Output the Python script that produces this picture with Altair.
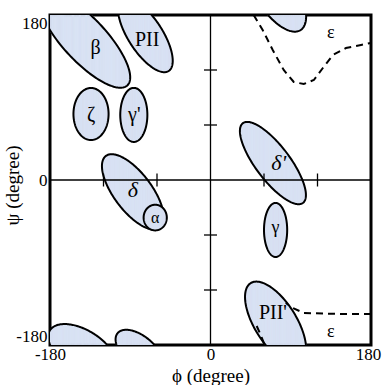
import numpy as np
import pandas as pd
import altair as alt

# ---- ellipse regions (center phi, center psi, semi-major, semi-minor, angle in degrees) ----
ell_name = ["beta", "PII", "zeta", "gamma_p", "delta", "delta_p", "gamma", "PII_p", "PII_p_wrap", "beta_wrap", "PII_wrap", "alpha"]
ell_phi = [-141, -73, -134, -86, -87, 70, 73, 73, 73, -144, -80, -62]
ell_psi = [153, 158, 72, 71, -13, 18.5, -54.5, -156, 207, -185.5, -186.5, -41]
ell_a = [69, 47, 28.4, 29.5, 49.6, 55, 29.5, 51.7, 51.7, 42, 31, 14]
ell_b = [24, 19, 19.7, 15.2, 21, 19, 13, 23.3, 23.3, 22, 16.5, 13]
ell_ang = [-46, -56, 90, 90, -52, -52, 90, -57, -57, -30, -38, 90]

# ---- epsilon boundary (dashed) ----
eps_seg = ["top"] * 12 + ["bot"] * 5 + ["bot2"] * 3
eps_phi = [48.4, 58.5, 69.8, 82.1, 93.4, 104.6, 115.9, 126, 137.3, 151.9, 168.8, 180,
           180, 146, 104.6, 92.3, 84.4,
           51.8, 56.3, 60.8]
eps_psi = [180, 163.6, 141.8, 120, 106.9, 104.7, 109.1, 122.2, 136.4, 144, 147.3, 149.5,
           -146.2, -146.2, -145.1, -139.6, -134.2,
           -159.3, -169, -180]

# ---- region labels ----
lab_text = ["β", "PII", "ζ", "γ'", "α", "γ", "PII'", "ε", "ε"]
lab_phi = [-129, -71, -134, -85.5, -62, 73, 70, 135, 135]
lab_psi = [144, 153, 71, 71, -41, -52, -145, 160, -166]
lab_size = [20, 20, 20, 20, 16, 18, 20, 18, 18]
ital_text = ["δ", "δ'"]
ital_phi = [-87, 76.5]
ital_psi = [-11, 18.5]

tick_vals = [-120, -60, 60, 120]
axis_vals = [-180, 0, 180]


def ellipse_slices(names, hs, ks, as_, bs, angs, n=120):
    rows = []
    for j, (nm, h, k, a, b, ang) in enumerate(zip(names, hs, ks, as_, bs, angs)):
        th = np.radians(ang)
        c, s = np.cos(th), np.sin(th)
        W = np.sqrt(a * a * c * c + b * b * s * s)
        t = np.linspace(np.pi, 0, n + 1)
        X = W * np.cos(t)
        A = s * s / a ** 2 + c * c / b ** 2
        B = 2 * X * c * s * (1 / a ** 2 - 1 / b ** 2)
        C = X * X * (c * c / a ** 2 + s * s / b ** 2) - 1
        disc = np.sqrt(np.clip(B * B - 4 * A * C, 0, None))
        y1 = (-B - disc) / (2 * A)
        y2 = (-B + disc) / (2 * A)
        for i in range(n):
            rows.append({"id": nm, "z": j,
                         "x1": h + X[i], "x2": h + X[i + 1],
                         "lo": k + min(y1[i], y1[i + 1]), "hi": k + max(y2[i], y2[i + 1])})
    return pd.DataFrame(rows)


def ellipse_outline(names, hs, ks, as_, bs, angs, n=200):
    rows = []
    for j, (nm, h, k, a, b, ang) in enumerate(zip(names, hs, ks, as_, bs, angs)):
        th = np.radians(ang)
        c, s = np.cos(th), np.sin(th)
        t = np.linspace(0, 2 * np.pi, n)
        px = h + a * np.cos(t) * c - b * np.sin(t) * s
        py = k + a * np.cos(t) * s + b * np.sin(t) * c
        for i in range(n):
            rows.append({"id": nm, "z": j, "i": i, "phi": px[i], "psi": py[i]})
    return pd.DataFrame(rows)


fill_df = ellipse_slices(ell_name[:-1], ell_phi[:-1], ell_psi[:-1], ell_a[:-1], ell_b[:-1], ell_ang[:-1])
line_df = ellipse_outline(ell_name[:-1], ell_phi[:-1], ell_psi[:-1], ell_a[:-1], ell_b[:-1], ell_ang[:-1])
afill_df = ellipse_slices(ell_name[-1:], ell_phi[-1:], ell_psi[-1:], ell_a[-1:], ell_b[-1:], ell_ang[-1:])
aline_df = ellipse_outline(ell_name[-1:], ell_phi[-1:], ell_psi[-1:], ell_a[-1:], ell_b[-1:], ell_ang[-1:])
eps_df = pd.DataFrame({"seg": eps_seg, "phi": eps_phi, "psi": eps_psi, "i": range(len(eps_phi))})
lab_df = pd.DataFrame({"t": lab_text, "phi": lab_phi, "psi": lab_psi, "s": lab_size})
ital_df = pd.DataFrame({"t": ital_text, "phi": ital_phi, "psi": ital_psi})
tick_df = pd.DataFrame({"v": tick_vals})

FONT = "Liberation Serif"
FILL = "#d6e1f3"

xs = alt.Scale(domain=[-180, 180], nice=False, zero=False)
ys = alt.Scale(domain=[-180, 180], nice=False, zero=False)

x_axis = alt.Axis(values=axis_vals, title="ϕ (degree)", ticks=False, grid=False, domain=False,
                  labelFlush=False, labelFont=FONT, labelFontSize=17, labelColor="black",
                  labelExpr="'' + datum.value",
                  labelOffset={"condition": {"test": "datum.value == 180", "value": -3}, "value": 0},
                  labelPadding=1, titleFont=FONT, titleFontSize=19, titleFontWeight="normal",
                  titleColor="black", titleY=36, titleBaseline="alphabetic")
y_axis = alt.Axis(values=axis_vals, title="ψ (degree)", ticks=False, grid=False, domain=False,
                  labelFlush=True, labelFont=FONT, labelFontSize=17, labelColor="black",
                  labelExpr="'' + datum.value",
                  labelPadding=3, titleFont=FONT, titleFontSize=19, titleFontWeight="normal",
                  titleColor="black", titleX=-38, titleY=170, titleBaseline="middle")


def fill_layer(df, with_axes=False):
    xkw = {"axis": x_axis} if with_axes else {}
    ykw = {"axis": y_axis} if with_axes else {}
    return alt.Chart(df).mark_rect(clip=True, strokeWidth=0.6).encode(
        x=alt.X("x1:Q", scale=xs, **xkw),
        x2="x2:Q",
        y=alt.Y("lo:Q", scale=ys, **ykw),
        y2="hi:Q",
        color=alt.value(FILL),
        stroke=alt.value(FILL),
        opacity=alt.value(1),
    )


def outline_layer(df):
    return alt.Chart(df).mark_line(clip=True, strokeWidth=2).encode(
        x=alt.X("phi:Q", scale=xs), y=alt.Y("psi:Q", scale=ys),
        detail="id:N", order="i:Q", color=alt.value("black"))


eps_layer = alt.Chart(eps_df).mark_line(clip=True, strokeWidth=2, strokeDash=[7, 5]).encode(
    x=alt.X("phi:Q", scale=xs), y=alt.Y("psi:Q", scale=ys), detail="seg:N", order="i:Q",
    color=alt.value("black"))

vline = alt.Chart(pd.DataFrame({"v": [0]})).mark_rule(strokeWidth=1.3).encode(
    x=alt.X("v:Q", scale=xs), color=alt.value("black"))
hline = alt.Chart(pd.DataFrame({"v": [0]})).mark_rule(strokeWidth=1.3).encode(
    y=alt.Y("v:Q", scale=ys), color=alt.value("black"))

xticks = alt.Chart(tick_df).mark_tick(orient="vertical", size=13, thickness=1.3, opacity=1).encode(
    x=alt.X("v:Q", scale=xs), y=alt.datum(0, scale=ys), color=alt.value("black"))
yticks = alt.Chart(tick_df).mark_tick(orient="horizontal", size=13, thickness=1.3, opacity=1).encode(
    y=alt.Y("v:Q", scale=ys), x=alt.datum(0, scale=xs), color=alt.value("black"))

labels = alt.Chart(lab_df).mark_text(font=FONT, align="center", baseline="middle").encode(
    x=alt.X("phi:Q", scale=xs), y=alt.Y("psi:Q", scale=ys), text="t:N",
    size=alt.Size("s:Q", scale=None, legend=None), color=alt.value("black"))
ital = alt.Chart(ital_df).mark_text(font=FONT, align="center", baseline="middle",
                                    fontStyle="italic", fontSize=22).encode(
    x=alt.X("phi:Q", scale=xs), y=alt.Y("psi:Q", scale=ys), text="t:N", color=alt.value("black"))

chart = alt.layer(
    fill_layer(fill_df, True), outline_layer(line_df),
    fill_layer(afill_df), outline_layer(aline_df),
    vline, hline, xticks, yticks, eps_layer, labels, ital
).properties(
    width=321, height=330,
    autosize=alt.AutoSizeParams(type="none"),
    padding={"left": 50, "top": 15, "right": 12, "bottom": 40},
    background="white",
).configure_view(stroke="black", strokeWidth=3)

chart.save("out.html", embed_options={"renderer": "svg", "actions": False})
